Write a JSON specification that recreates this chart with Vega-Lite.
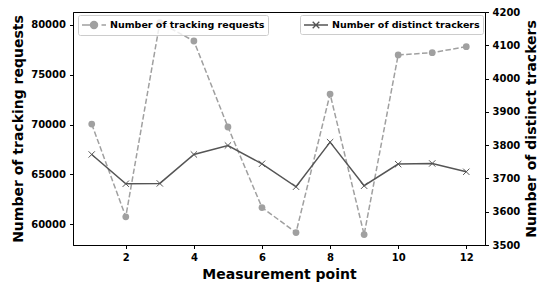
{
  "$schema": "https://vega.github.io/schema/vega-lite/v6.json",
  "width": 412,
  "height": 233,
  "autosize": {"type": "none"},
  "padding": {"left": 73, "top": 12, "right": 53, "bottom": 41},
  "background": "white",
  "config": {
    "font": "DejaVu Sans",
    "view": {"stroke": "black", "strokeWidth": 1},
    "axis": {
      "grid": false,
      "domainColor": "black",
      "tickColor": "black",
      "labelColor": "black",
      "titleColor": "black",
      "labelFont": "DejaVu Sans",
      "titleFont": "DejaVu Sans",
      "labelFontWeight": "bold",
      "labelFontSize": 10,
      "titleFontWeight": "bold",
      "titleFontSize": 14,
      "tickSize": 3.5,
      "domainWidth": 1,
      "tickWidth": 1
    },
    "legend": {
      "labelFont": "DejaVu Sans",
      "labelFontWeight": "bold",
      "labelFontSize": 9.5,
      "labelColor": "black"
    }
  },
  "data": {
    "values": [
      {"point": 1, "requests": 70050, "trackers": 3772},
      {"point": 2, "requests": 60750, "trackers": 3684},
      {"point": 3, "requests": 80240, "trackers": 3685},
      {"point": 4, "requests": 78390, "trackers": 3772},
      {"point": 5, "requests": 69760, "trackers": 3799},
      {"point": 6, "requests": 61680, "trackers": 3744},
      {"point": 7, "requests": 59170, "trackers": 3675},
      {"point": 8, "requests": 73070, "trackers": 3809},
      {"point": 9, "requests": 58970, "trackers": 3678},
      {"point": 10, "requests": 76990, "trackers": 3743},
      {"point": 11, "requests": 77220, "trackers": 3745},
      {"point": 12, "requests": 77820, "trackers": 3720}
    ]
  },
  "encoding": {
    "x": {
      "field": "point",
      "type": "quantitative",
      "scale": {"domain": [0.45, 12.55], "nice": false, "zero": false},
      "axis": {"values": [2, 4, 6, 8, 10, 12], "format": "d", "title": "Measurement point", "labelPadding": 4, "titlePadding": 5}
    }
  },
  "layer": [
    {
      "encoding": {
        "y": {
          "field": "requests",
          "type": "quantitative",
          "scale": {"domain": [57920, 81300], "nice": false, "zero": false},
          "axis": {"orient": "left", "values": [60000, 65000, 70000, 75000, 80000], "format": "d", "title": "Number of tracking requests", "labelPadding": 4, "titlePadding": 5}
        }
      },
      "layer": [
        {
          "mark": {"type": "line", "strokeDash": [5.5, 2.4], "strokeWidth": 1.5},
          "encoding": {
            "color": {
              "datum": "Number of tracking requests",
              "type": "nominal",
              "scale": {"range": ["#a0a0a0"]},
              "legend": {
                "orient": "none",
                "legendX": 5,
                "legendY": 3,
                "title": null,
                "symbolType": "M-2,0H-0.4M1.25,0H2M0.58,0A0.58,0.58 0 1,1 -0.58,0A0.58,0.58 0 1,1 0.58,0Z",
                "symbolSize": 144,
                "symbolStrokeWidth": 1.5,
                "symbolOffset": 6,
                "labelOffset": 9,
                "padding": 3,
                "strokeColor": "#cccccc",
                "fillColor": "rgba(255,255,255,0.8)",
                "cornerRadius": 2,
                "encode": {"symbols": {"update": {"fill": {"value": "#a0a0a0"}, "stroke": {"value": "#a0a0a0"}}}}
              }
            }
          }
        },
        {
          "mark": {"type": "point", "shape": "circle", "filled": true, "size": 46, "color": "#a0a0a0", "opacity": 1}
        }
      ]
    },
    {
      "encoding": {
        "y": {
          "field": "trackers",
          "type": "quantitative",
          "scale": {"domain": [3500, 4200], "nice": false, "zero": false},
          "axis": {"orient": "right", "values": [3500, 3600, 3700, 3800, 3900, 4000, 4100, 4200], "format": "d", "title": "Number of distinct trackers", "labelPadding": 3.5, "titlePadding": 5, "titleAngle": 270, "titleBaseline": "top"}
        }
      },
      "layer": [
        {
          "mark": {"type": "line", "strokeWidth": 1.5},
          "encoding": {
            "color": {
              "datum": "Number of distinct trackers",
              "type": "nominal",
              "scale": {"range": ["#555555"]},
              "legend": {
                "orient": "none",
                "legendX": 227,
                "legendY": 3,
                "title": null,
                "symbolType": "M-2,0H2M-0.55,-0.55L0.55,0.55M-0.55,0.55L0.55,-0.55",
                "symbolSize": 144,
                "symbolStrokeWidth": 1.3,
                "symbolOffset": 6,
                "labelOffset": 9,
                "padding": 3,
                "strokeColor": "#cccccc",
                "fillColor": "rgba(255,255,255,0.8)",
                "cornerRadius": 2,
                "encode": {"symbols": {"update": {"fill": {"value": "transparent"}, "stroke": {"value": "#555555"}}}}
              }
            }
          }
        },
        {
          "mark": {"type": "point", "shape": "M-1,-1L1,1M-1,1L1,-1", "filled": false, "size": 40, "color": "#555555", "strokeWidth": 1, "opacity": 1}
        }
      ]
    }
  ],
  "resolve": {"scale": {"y": "independent", "color": "independent"}, "legend": {"color": "independent"}}
}
